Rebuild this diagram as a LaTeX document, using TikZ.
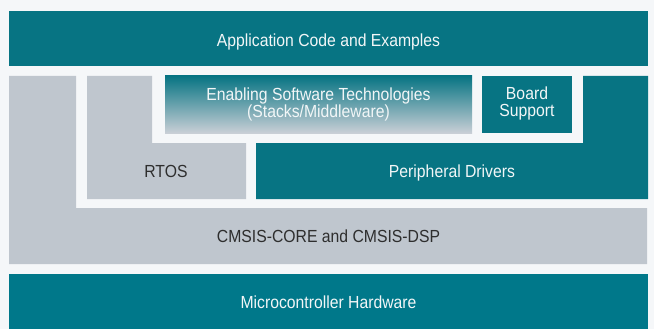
\documentclass[tikz,border=0pt]{standalone}
\usepackage{fontspec}
\setmainfont[FakeStretch=0.9]{Liberation Sans}
\definecolor{bgc}{HTML}{F5F7F9}
\definecolor{teal1}{HTML}{077483}
\definecolor{teal2}{HTML}{00788A}
\definecolor{grayc}{HTML}{BFC6CE}
\definecolor{darktxt}{HTML}{2E2E2E}
\definecolor{lighttxt}{HTML}{F2F6F7}
\definecolor{fadec}{HTML}{C9CFD6}
\tikzset{
  lbl/.style={font=\fontsize{17.5}{17}\selectfont, align=center, inner sep=0pt},
  onteal/.style={lbl, text=lighttxt},
  ongray/.style={lbl, text=darktxt},
  tealbox/.style={fill=teal1, draw=none},
  graybox/.style={fill=grayc, draw=none},
}
\begin{document}
\begin{tikzpicture}[x=1pt,y=-1pt]
\useasboundingbox (0,0) rectangle (654,329);
\fill[bgc] (0,0) rectangle (654,329);
% top bar
\fill[tealbox] (9,11) rectangle (648,66);
\node[onteal, anchor=base] (app) at (328.5,46.7) {Application Code and Examples};
% CMSIS L-shape
\fill[graybox] (9,76) -- (76,76) -- (76,208) -- (647,208) -- (647,264) -- (9,264) -- cycle;
\node[ongray, anchor=base] (cmsis) at (328.5,242.7) {CMSIS-CORE and CMSIS-DSP};
% RTOS L-shape
\fill[graybox] (87,76) -- (152,76) -- (152,143) -- (246,143) -- (246,199) -- (87,199) -- cycle;
\node[ongray, anchor=base] (rtos) at (166,177.5) {RTOS};
% Enabling software
\shade[top color=teal1, bottom color=fadec] (165,76) rectangle (472,133);
\node[onteal] (ena) at (318.5,104.5) {Enabling Software Technologies\\(Stacks/Middleware)};
% Board support
\fill[tealbox] (482,76) rectangle (572,133);
\node[onteal] (bsp) at (527,103) {Board\\Support};
% Peripheral drivers L-shape
\fill[tealbox] (583,76) -- (648,76) -- (648,199) -- (256,199) -- (256,143) -- (583,143) -- cycle;
\node[onteal, anchor=base] (per) at (452,177.5) {Peripheral Drivers};
% bottom bar
\fill[fill=teal2] (9,274) rectangle (648,329);
\node[onteal, anchor=base] (mcu) at (328.5,308.5) {Microcontroller Hardware};
\end{tikzpicture}
\end{document}
